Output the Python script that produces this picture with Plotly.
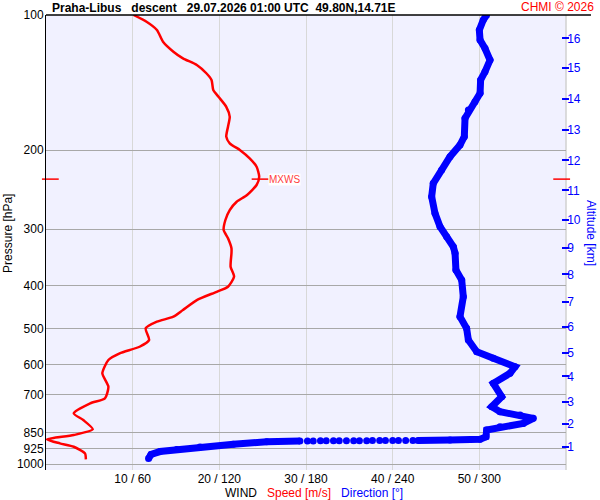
import numpy as np
import plotly.graph_objects as go

# wind speed profile (m/s) vs pressure (hPa)
spd_p = [100, 103.5, 108.0, 114.7, 120.7, 124.9, 129.2, 134.8, 139.5, 146.9,
         152.1, 160.1, 168.5, 177.3, 186.6, 193.1, 200, 208.5, 217.7, 229.2,
         239.1, 251.7, 260.5, 271.9, 286.1, 301.2, 314.3, 330.8, 339.4, 363.6,
         382.6, 402.9, 413.4, 431.3, 453.9, 469.7, 482.0, 498.6, 529.4, 548.0,
         566.8, 586.6, 628.1, 672.7, 714.0, 732.5, 771.1, 798.0, 836.9, 861.8,
         881.0, 899.3, 915.1, 946.7, 976.2]
spd = [10.1, 11.6, 12.8, 13.5, 14.7, 15.8, 17.4, 18.5, 19.1, 19.3,
       19.9, 20.8, 21.2, 21.0, 20.8, 21.2, 22.4, 23.5, 24.3, 24.6,
       24.3, 23.2, 22.0, 21.2, 20.7, 20.5, 21.0, 21.4, 21.4, 21.3,
       21.7, 21.0, 19.7, 17.4, 15.8, 14.7, 12.8, 11.5, 11.9, 10.8,
       8.5, 7.2, 6.5, 7.2, 6.8, 5.1, 3.2, 4.3, 5.4, 3.2,
       0.1, 1.6, 3.2, 4.5, 4.6]

# wind direction (deg), upper part down to the inversion
dir_p_top = [100, 102.6, 108.0, 113.7, 118.6, 126.0, 133.8, 139.5, 149.4, 156.0,
             162.8, 169.8, 186.6, 194.8, 206.8, 221.4, 237.1, 253.9, 276.5, 296.1,
             311.7, 328.1, 339.4, 369.8, 389.2, 424.1, 469.7, 498.6, 529.4, 562.1,
             581.5, 607.1, 628.1, 661.2, 708.1, 745.2, 764.6, 777.8, 791.1, 811.8,
             826.0, 840.2, 869.4, 881.0, 884.2, 886.0]
dir_top = [305, 302.7, 300.0, 300.5, 303.9, 307.4, 303.9, 300.9, 300.5, 297.0,
           292.4, 290.1, 289.6, 286.6, 279.7, 273.9, 268.1, 267.0, 269.3, 272.8,
           277.4, 282.0, 283.2, 283.8, 287.8, 288.9, 286.6, 291.2, 292.4, 298.2,
           309.7, 324.7, 321.2, 309.7, 315.5, 308.6, 314.3, 328.2, 337.4, 330.4,
           314.3, 305.1, 304.6, 300.5, 279.7, 257.5]

# direction turning fast in the inversion (separate dots)
dir_p_dots = [886.3, 886.4, 886.5, 886.5, 886.6, 886.7, 886.8, 886.9, 887.0, 887.1,
              887.2, 887.3, 887.4, 887.6, 887.8, 888.0, 888.3]
dir_dots = [254, 249, 244, 240, 235, 231, 226, 222, 217, 213,
            208, 203, 199, 194, 190, 185, 181]

# direction near the ground
dir_p_low = [888.7, 891.9, 904.0, 916.6, 928.4, 938.0, 952.4, 972.3]
dir_low = [175.8, 152.8, 129.7, 106.6, 90.5, 78.9, 72.7, 71.0]

# axes
p_ticks = [100, 200, 300, 400, 500, 600, 700, 850, 925, 1000]
x_ticks = [10, 20, 30, 40, 50]
x_labels = ["10 / 60", "20 / 120", "30 / 180", "40 / 240", "50 / 300"]
alt_p = [916.6, 813.5, 726.5, 637.7, 565.8, 495.3, 435.0, 378.0, 329.9, 285.7,
         245.7, 210.7, 180.1, 153.9, 131.4, 112.7]
alt_km = ["1", "2", "3", "4", "5", "6", "7", "8", "9", "10",
          "11", "12", "13", "14", "15", "16"]

p_mxws = 232
spd_max = 24.6
p_range = [100, 1031]
spd_range = [0, 60]
dir_range = [0, 360]

font = "Liberation Sans, Arial, sans-serif"
# pressure axis goes down: 1031 hPa at the bottom, 100 hPa at the top
yr = [np.log10(p_range[1]), np.log10(p_range[0])]

fig = go.Figure()

# speed
fig.add_trace(go.Scatter(x=spd, y=spd_p, mode="lines", line=dict(color="#ff0000", width=2.5, shape="spline", smoothing=0.6),
                         xaxis="x", yaxis="y", hoverinfo="skip"))

# direction
dir_p_line = dir_p_top + [None] + dir_p_low
dir_line = dir_top + [None] + dir_low
fig.add_trace(go.Scatter(x=dir_line, y=dir_p_line, mode="lines+markers",
                         line=dict(color="#0000ff", width=7),
                         marker=dict(color="#0000ff", size=7),
                         xaxis="x2", yaxis="y", hoverinfo="skip", connectgaps=False))
fig.add_trace(go.Scatter(x=dir_dots, y=dir_p_dots, mode="markers",
                         marker=dict(color="#0000ff", size=7),
                         xaxis="x2", yaxis="y", hoverinfo="skip"))

# MXWS markers
fig.add_trace(go.Scatter(x=[spd_range[0] + 0.5, spd_max + 0.1, spd_range[1] - 0.5], y=[p_mxws] * 3, mode="markers",
                         marker=dict(symbol="line-ew", size=12, line=dict(color="#ff0000", width=1.5)),
                         xaxis="x", yaxis="y", cliponaxis=False, hoverinfo="skip"))

# empty trace so the altitude axis gets drawn
fig.add_trace(go.Scatter(x=[None], y=[None], xaxis="x", yaxis="y2", mode="markers", hoverinfo="skip"))

fig.update_layout(
    width=600, height=500,
    margin=dict(l=46, r=34, t=15, b=30, autoexpand=False),
    paper_bgcolor="white", plot_bgcolor="#f1f1ff",
    showlegend=False,
    font=dict(family=font, size=12, color="black"),
    xaxis=dict(range=spd_range, tickvals=x_ticks, ticktext=x_labels, showgrid=True, gridcolor="#d8d8d8",
               gridwidth=1, zeroline=False, showline=False, ticks="", tickfont=dict(size=12), automargin=False),
    xaxis2=dict(range=dir_range, overlaying="x", visible=False),
    yaxis=dict(type="log", range=yr, autorange=False, tickvals=p_ticks, ticktext=[str(v) for v in p_ticks],
               showgrid=True, gridcolor="#a8a8a8", gridwidth=1, zeroline=False,
               showline=True, linecolor="black", linewidth=1, ticks="", ticklabelstandoff=-1,
               tickfont=dict(size=12), automargin=False),
    yaxis2=dict(type="log", range=yr, autorange=False, overlaying="y", side="right", anchor="free", position=0.99,
                tickvals=alt_p, ticktext=alt_km, showgrid=False, zeroline=False, showline=False,
                ticks="outside", ticklen=7, tickwidth=1.5, tickcolor="#0000ff", ticklabelstandoff=-4,
                tickfont=dict(size=12, color="#0000ff"), automargin=False),
)

# plot frame: top black line and right grey border
fig.add_shape(type="line", xref="paper", yref="paper", x0=0, x1=1.048, y0=1, y1=1,
              line=dict(color="black", width=1.5), layer="above")
fig.add_shape(type="line", xref="paper", yref="paper", x0=1, x1=1, y0=0, y1=1,
              line=dict(color="#d0d0d0", width=1.5), layer="below")

# texts
fig.add_annotation(xref="paper", yref="paper", x=0.008, y=1, xanchor="left", yanchor="bottom", yshift=-2,
                   text="<b>Praha-Libus&nbsp;&nbsp;&nbsp;descent&nbsp;&nbsp;&nbsp;29.07.2026 01:00 UTC&nbsp;&nbsp;49.80N,14.71E</b>",
                   showarrow=False, font=dict(size=12, color="black"))
fig.add_annotation(xref="paper", yref="paper", x=1.058, y=1, xanchor="right", yanchor="bottom", yshift=-1,
                   text="CHMI © 2026", showarrow=False, font=dict(size=12, color="#ff0000"))
fig.add_annotation(xref="x", yref="y", x=spd_max, y=np.log10(p_mxws), xanchor="left", xshift=9,
                   text="MXWS", showarrow=False, bgcolor="white", borderpad=0,
                   font=dict(size=10, color="#ff4040"))
fig.add_annotation(xref="paper", yref="paper", x=0.5, y=0, yanchor="top", xanchor="center", yshift=-14, xshift=8,
                   text="WIND&nbsp;&nbsp;&nbsp;<span style='color:#ff0000'>Speed [m/s]</span>&nbsp;&nbsp;&nbsp;<span style='color:#0000ff'>Direction [°]</span>",
                   showarrow=False, font=dict(size=12, color="black"))
fig.add_annotation(xref="paper", yref="paper", x=-0.072, y=0.52, xanchor="center", yanchor="middle",
                   text="Pressure [hPa]", textangle=-90, showarrow=False, font=dict(size=12, color="black"))
fig.add_annotation(xref="paper", yref="paper", x=1.047, y=0.52, xanchor="center", yanchor="middle",
                   text="Altitude [km]", textangle=90, showarrow=False, font=dict(size=12, color="#0000ff"))

# page body has a default 8 px margin, drop it so the figure sits in the corner
fig.write_html("out.html", config={"displayModeBar": False},
               post_script="document.body.style.margin = '0px';")
